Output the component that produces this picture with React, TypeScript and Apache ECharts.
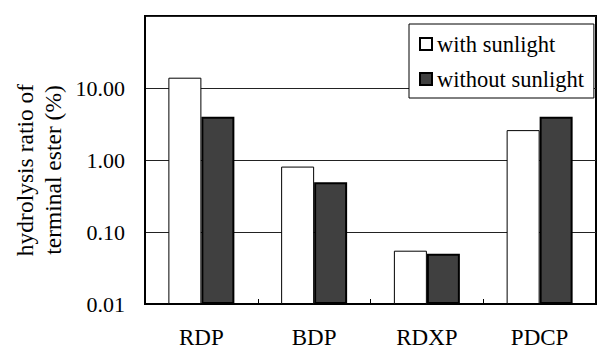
import React, { useEffect, useRef } from "react";
import * as echarts from "echarts";

const categories = ["RDP", "BDP", "RDXP", "PDCP"];
const withSunlight = [13.9, 0.81, 0.055, 2.6];
const withoutSunlight = [4.0, 0.49, 0.05, 4.0];
const seriesNames = ["with sunlight", "without sunlight"];
const yAxisTitle = "hydrolysis ratio of\nterminal ester (%)";

const FONT = '"Liberation Serif", "Times New Roman", Times, serif';

export default function App() {
  const ref = useRef<HTMLDivElement>(null);
  useEffect(() => {
    if (!ref.current) return;
    const chart = echarts.init(ref.current, null, { renderer: "svg" });
    chart.setOption({
      animation: false,
      backgroundColor: "#fff",
      textStyle: { fontFamily: FONT, color: "#000" },
      grid: {
        left: 145,
        right: 1,
        top: 16,
        bottom: 45,
        show: true,
        borderColor: "#000",
        borderWidth: 2,
        backgroundColor: "transparent",
        containLabel: false,
        outerBoundsMode: "none",
      },
      legend: {
        orient: "vertical",
        left: 409,
        top: 24,
        padding: [8, 10, 7, 10],
        itemGap: 11,
        itemWidth: 12,
        itemHeight: 12,
        icon: "rect",
        backgroundColor: "#fff",
        borderColor: "#000",
        borderWidth: 1,
        textStyle: { fontFamily: FONT, fontSize: 22.5, color: "#000", lineHeight: 24 },
        data: seriesNames,
      },
      graphic: [
        {
          type: "text",
          x: 39,
          y: 170,
          rotation: Math.PI / 2,
          style: {
            text: yAxisTitle,
            fontFamily: FONT,
            fontSize: 23.5,
            lineHeight: 28,
            fill: "#000",
            align: "center",
            verticalAlign: "middle",
          },
        },
      ],
      xAxis: {
        type: "category",
        data: categories,
        axisLine: { lineStyle: { color: "#000", width: 2 } },
        axisTick: { show: true, inside: true, length: 5, lineStyle: { color: "#000", width: 1 } },
        axisLabel: { fontFamily: FONT, fontSize: 23, color: "#000", margin: 25, lineHeight: 16 },
      },
      yAxis: {
        type: "log",
        logBase: 10,
        min: 0.01,
        max: 100,
        startValue: 0.01,
        axisLine: { show: true, lineStyle: { color: "#000", width: 2 } },
        axisTick: { show: false },
        splitLine: { show: true, lineStyle: { color: "#222", width: 1 } },
        axisLabel: {
          fontFamily: FONT,
          fontSize: 22,
          color: "#000",
          margin: 20,
          formatter: (v: number) => (v >= 99 ? "" : v.toFixed(2)),
        },
      },
      series: [
        {
          name: seriesNames[0],
          type: "bar",
          data: withSunlight,
          barWidth: 33,
          barGap: "0%",
          itemStyle: { color: "#fff", borderColor: "#000", borderWidth: 1 },
        },
        {
          name: seriesNames[1],
          type: "bar",
          data: withoutSunlight,
          barWidth: 33,
          barGap: "0%",
          itemStyle: { color: "#404040", borderColor: "#000", borderWidth: 2 },
        },
      ],
    });
    return () => chart.dispose();
  }, []);
  return (
    <div
      ref={ref}
      style={{ position: "absolute", left: 0, top: 0, width: 597, height: 349 }}
    />
  );
}
